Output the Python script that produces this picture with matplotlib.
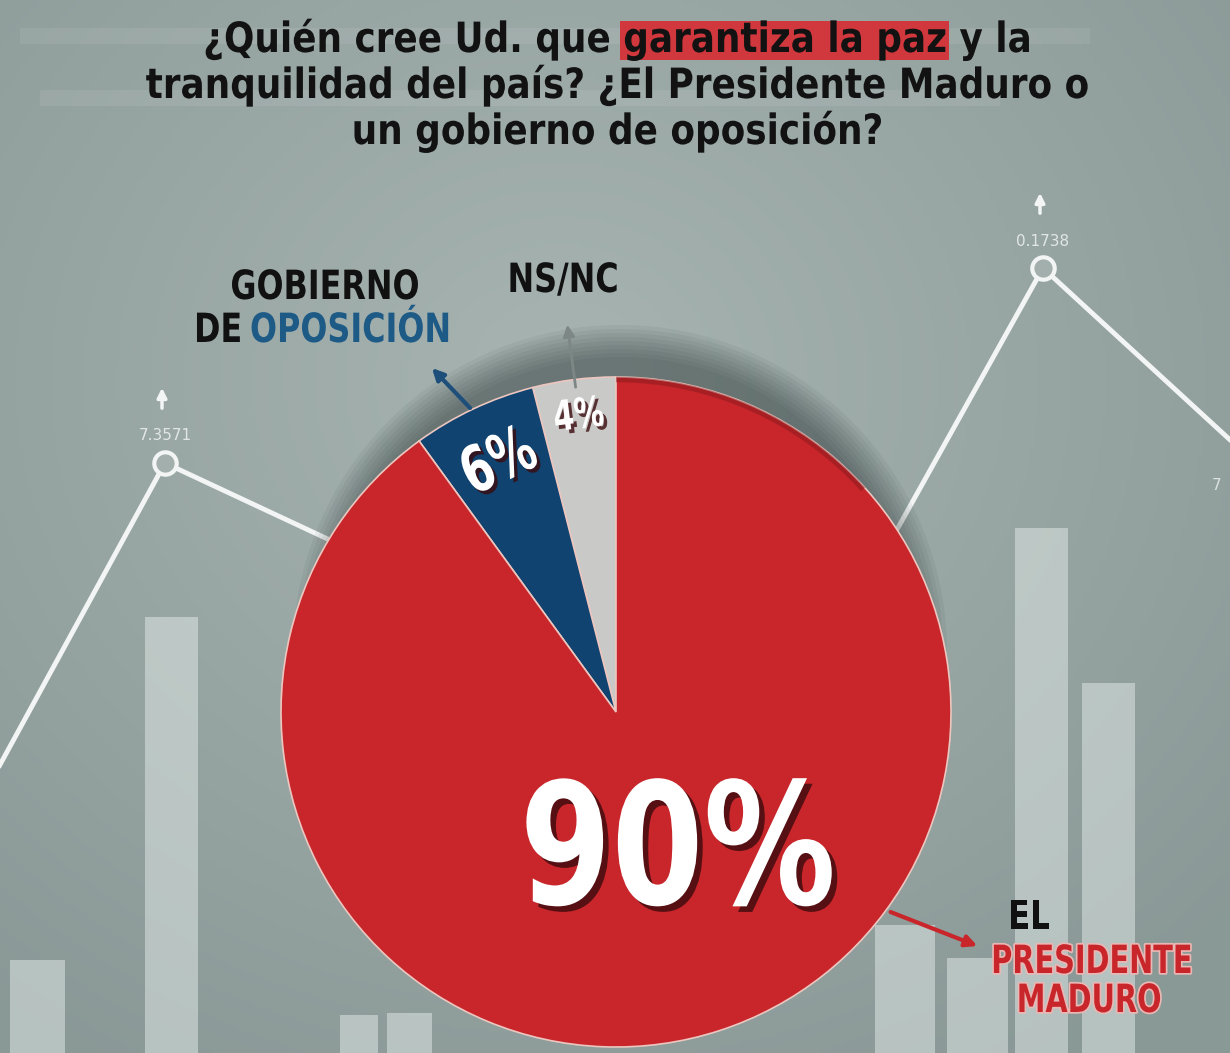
import matplotlib
matplotlib.use("Agg")
import matplotlib.pyplot as plt
import matplotlib.patheffects as pe
from matplotlib.patches import Rectangle, Circle, FancyArrowPatch, Arc
from matplotlib.transforms import Affine2D
import numpy as np

W, H = 1230, 1053

# survey result
shares = [4, 6, 90]
pct_labels = ["4%", "6%", "90%"]
colors = ["#c9cac8", "#10436f", "#c8262b"]

title_lines = ["¿Quién cree Ud. que garantiza la paz y la",
               "tranquilidad del país? ¿El Presidente Maduro o",
               "un gobierno de oposición?"]
highlight = "garantiza la paz"

# decorative background chart
bg_line_x = [-10, 165, 775, 1043, 1240]
bg_line_y = [783, 463, 748, 268, 449]
bg_marker_x = [165, 1043]
bg_marker_y = [463, 268]
bg_marker_labels = ["7.3571", "0.1738"]
bg_bar_left = [10, 145, 340, 387, 875, 947, 1015, 1082]
bg_bar_right = [65, 198, 378, 432, 935, 1008, 1068, 1135]
bg_bar_top = [960, 617, 1015, 1013, 925, 958, 528, 683]


class Condensed(pe.AbstractPathEffect):
    """Squeeze text horizontally (no condensed font installed)."""

    def __init__(self, sx, inner=None, anchor="center"):
        super().__init__()
        self.sx = sx
        self.inner = inner or [pe.Normal()]
        self.anchor = anchor

    def draw_path(self, renderer, gc, tpath, affine, rgbFace=None):
        ext = tpath.get_extents()
        c = {"center": (ext.x0 + ext.x1) / 2, "left": 0, "right": ext.x1}[self.anchor]
        t = Affine2D().translate(-c, 0).scale(self.sx, 1).translate(c, 0) + affine
        for e in self.inner:
            e.draw_path(renderer, gc, tpath, t, rgbFace)


FONT = ["DejaVu Sans"]

fig = plt.figure(figsize=(12.3, 10.53), dpi=100)
bg = fig.add_axes([0, 0, 1, 1])
bg.set_xlim(0, W)
bg.set_ylim(H, 0)
bg.axis("off")

# background gradient
yy, xx = np.mgrid[0:H:4, 0:W:4]
d = np.sqrt(((xx - 560) / 900.0) ** 2 + ((yy - 380) / 800.0) ** 2)
c0 = np.array([0.655, 0.705, 0.695])
c1 = np.array([0.54, 0.60, 0.59])
t = np.clip(d, 0, 1)[..., None]
img = c0 * (1 - t) + c1 * t
bg.imshow(img, extent=(0, W, H, 0), aspect="auto", zorder=0)

# faint stripes near top
for y0, x0, x1 in [(28, 20, 1090), (90, 40, 1000)]:
    bg.add_patch(Rectangle((x0, y0), x1 - x0, 16, color="white", alpha=0.08, lw=0, zorder=1))

bar_w = np.array(bg_bar_right) - np.array(bg_bar_left)
bg.bar(bg_bar_left, H - np.array(bg_bar_top), width=bar_w, bottom=bg_bar_top,
       align="edge", color="#e4ecea", alpha=0.5, lw=0, zorder=1)

bg.plot(bg_line_x, bg_line_y, color="#f2f5f4", lw=3.5, zorder=2, solid_capstyle="round")
bg.scatter(bg_marker_x, bg_marker_y, s=260, facecolor="#a2afad", edgecolor="#f2f5f4",
           lw=3, zorder=3)
for x, y, s in zip(bg_marker_x, bg_marker_y, bg_marker_labels):
    bg.text(x, y - 27, s, ha="center", va="center", fontsize=11, color="#eef2f1",
            alpha=0.85, zorder=3)
    bg.annotate("", xy=(x - 3, y - 78), xytext=(x - 3, y - 52),
                arrowprops=dict(arrowstyle="-|>", color="#f2f5f4", lw=2.5,
                                mutation_scale=14), zorder=3)
bg.text(1212, 490, "7", fontsize=11, color="#eef2f1", alpha=0.8, zorder=3)

# pie shadow (above the pie only)
cx, cy, r = 616, 712, 335
for k in range(9):
    bg.add_patch(Circle((cx + 4, cy - 60), r - 40 + 4 * k, color="#1f2b2b",
                        alpha=0.06, lw=0, zorder=4))

# title
renderer = fig.canvas.get_renderer()
title_y = [52, 98, 144]
t_sx = 0.86
tkw = dict(fontsize=30, fontweight="bold", family=FONT, color="#121212",
           ha="center", va="baseline", zorder=10,
           path_effects=[Condensed(t_sx)])
for line, y in zip(title_lines, title_y):
    tt = bg.text(W / 2 + 2, y, line, **tkw)
    if highlight in line:
        w_line = tt.get_window_extent(renderer).width
        pre = line.split(highlight)[0]
        probe = bg.text(0, 0, pre + highlight, **tkw)
        w_all = probe.get_window_extent(renderer).width
        probe.remove()
        probe = bg.text(0, 0, highlight, **tkw)
        w_hl = probe.get_window_extent(renderer).width
        probe.remove()
        left = W / 2 + 2 - t_sx * w_line / 2
        x0 = left + t_sx * (w_all - w_hl)
        bg.add_patch(Rectangle((x0 - 3, y - 31), t_sx * w_hl + 6, 39, color="#d1383d",
                               lw=0, zorder=9))

# pie
pad = 1.02
pa = fig.add_axes([(cx - r * pad) / W, (H - cy - r * pad) / H, 2 * r * pad / W, 2 * r * pad / H])
wedges, _ = pa.pie(shares, colors=colors, startangle=90, counterclock=True, radius=1,
                   wedgeprops=dict(edgecolor="#ecc6bf", linewidth=1.2))
pa.add_patch(Arc((0, 0), 1.985, 1.985, theta1=42, theta2=90, color="#8a1a1d",
                 lw=4, alpha=0.5))
pa.set_xlim(-pad, pad)
pa.set_ylim(-pad, pad)
pa.set_zorder(5)

label_r = [0.89, 0.82, 0.47]
label_dtheta = [0, 0, 5]
label_size = [30, 46, 122]
label_sx = [0.72, 0.70, 0.78]
for w, lab, lr, dth, fs, sx in zip(wedges, pct_labels, label_r, label_dtheta, label_size, label_sx):
    mid = np.deg2rad((w.theta1 + w.theta2) / 2 + dth)
    rot = 0 if fs > 100 else np.rad2deg(mid) - 90
    off = 4 if fs > 100 else 2.5
    eff = [Condensed(sx, [pe.SimplePatchShadow(offset=(off, -off), shadow_rgbFace="#3a0a0c",
                                               alpha=0.8), pe.Normal()])]
    pa.text(lr * np.cos(mid), lr * np.sin(mid), lab, ha="center", va="center",
            rotation=rot, fontsize=fs, fontweight="bold", family=FONT,
            color="white", path_effects=eff)

# category labels on overlay axes
ov = fig.add_axes([0, 0, 1, 1])
ov.set_xlim(0, W)
ov.set_ylim(H, 0)
ov.axis("off")
ov.set_zorder(6)

l_sx = 0.79
lkw = dict(fontsize=29, fontweight="bold", family=FONT, va="center")
ov.text(325, 288, "GOBIERNO", ha="center", color="#111111",
        path_effects=[Condensed(l_sx)], **lkw)
ov.text(243, 331, "DE", ha="right", color="#111111",
        path_effects=[Condensed(l_sx, anchor="right")], **lkw)
ov.text(250, 331, "OPOSICIÓN", ha="left", color="#1d5a86",
        path_effects=[Condensed(l_sx, anchor="left")], **lkw)
ov.text(563, 281, "NS/NC", ha="center", color="#111111",
        path_effects=[Condensed(l_sx)], **lkw)

ov.text(1029, 918, "EL", ha="center", color="#111111",
        path_effects=[Condensed(l_sx)], **lkw)
r_eff = [Condensed(0.74, [pe.Stroke(linewidth=2.5, foreground="#e9b7b4"), pe.Normal()])]
rkw = dict(fontsize=28, fontweight="bold", family=FONT, va="center", ha="center",
           color="#c8262b", path_effects=r_eff)
ov.text(1092, 962, "PRESIDENTE", **rkw)
ov.text(1089, 1001, "MADURO", **rkw)

for (x0, y0), (x1, y1), col, lw in [((472, 410), (430, 366), "#1d4f7a", 3),
                                    ((576, 390), (567, 322), "#7d8786", 2),
                                    ((888, 911), (980, 947), "#c8262b", 3)]:
    ov.add_patch(FancyArrowPatch((x0, y0), (x1, y1), arrowstyle="-|>", color=col,
                                 lw=lw, mutation_scale=17))

fig.savefig("out.png", dpi=100)
